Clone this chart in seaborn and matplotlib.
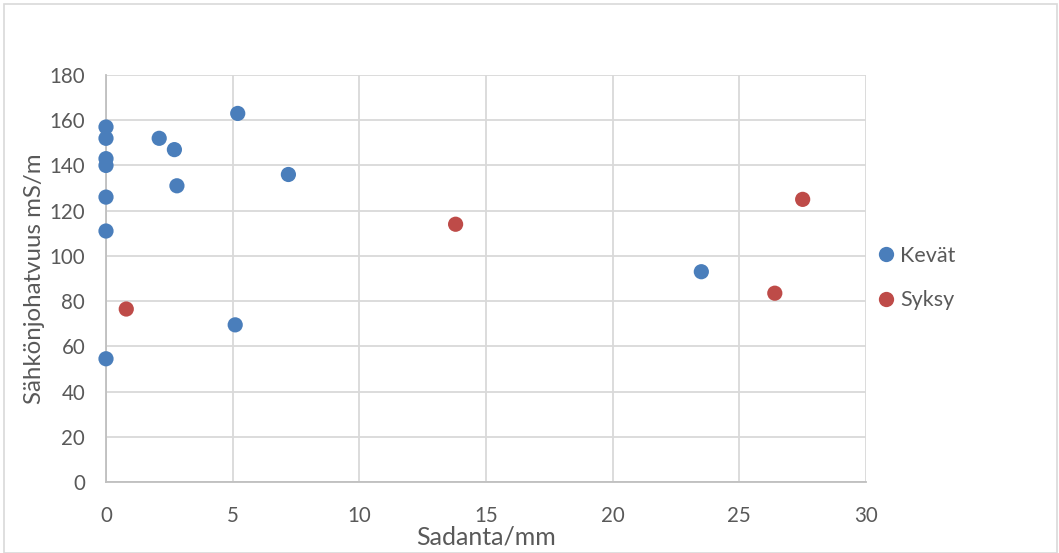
import matplotlib
matplotlib.use("Agg")
import matplotlib.pyplot as plt
import seaborn as sns
import pandas as pd
from matplotlib.patches import Rectangle

kevat_x = [0, 0, 0, 0, 0, 0, 0, 2.1, 2.7, 2.8, 5.2, 5.1, 7.2, 23.5]
kevat_y = [157, 152, 143, 140, 126, 111, 54.5, 152, 147, 131, 163, 69.5, 136, 93]
syksy_x = [0.8, 13.8, 26.4, 27.5]
syksy_y = [76.5, 114, 83.5, 125]
series = ["Kevät", "Syksy"]
colors = ["#4A7EBB", "#BE4B48"]

df = pd.DataFrame({
    "x": kevat_x + syksy_x,
    "y": kevat_y + syksy_y,
    "Sarja": [series[0]] * len(kevat_x) + [series[1]] * len(syksy_x),
})

sns.set_theme(style="white")
plt.rcParams['font.family'] = ['Lato', 'DejaVu Sans']

fig = plt.figure(figsize=(10.59, 5.53), dpi=100)
W, H = 1059, 553
ax = fig.add_axes([106 / W, 1 - 482 / H, (866 - 106) / W, (482 - 75) / H])

sns.scatterplot(data=df, x="x", y="y", hue="Sarja", palette=dict(zip(series, colors)),
                s=120, edgecolor="none", ax=ax, zorder=3, legend=False, clip_on=False)

ax.set_xlim(0, 30)
ax.set_ylim(0, 180)
ax.set_xticks(range(0, 31, 5))
ax.set_yticks(range(0, 181, 20))
ax.grid(True, color="#D9D9D9", linewidth=1.3, zorder=0)
ax.set_axisbelow(True)
for s in ["top", "right"]:
    ax.spines[s].set_visible(False)
for s in ["left", "bottom"]:
    ax.spines[s].set_color("#BFBFBF")
    ax.spines[s].set_linewidth(1.3)
ax.tick_params(axis="both", colors="#595959", labelsize=14.8, length=0)
ax.tick_params(axis="x", pad=17)
ax.tick_params(axis="y", pad=15)
ax.set_xlabel("Sadanta/mm", fontsize=18, color="#595959", labelpad=0)
ax.set_ylabel("Sähkönjohatvuus mS/m", fontsize=17.3, color="#595959")
ax.yaxis.set_label_coords(-(106 - 45) / (866 - 106), 0.5)

handles = [plt.Line2D([], [], marker="o", linestyle="", markersize=11,
                      markerfacecolor=c, markeredgecolor="none") for c in colors]
fig.legend(handles, series, loc="center left", bbox_to_anchor=(854 / W, 1 - 278 / H),
           frameon=False, fontsize=15.5, labelcolor="#595959", handletextpad=0.05,
           labelspacing=1.12, handlelength=1.2)

fig.patches.append(Rectangle((4 / W, 0), 1 - 6 / W, 1 - 4 / H, transform=fig.transFigure,
                             fill=False, edgecolor="#D9D9D9", linewidth=1.2))

fig.savefig("out.png", dpi=100)
